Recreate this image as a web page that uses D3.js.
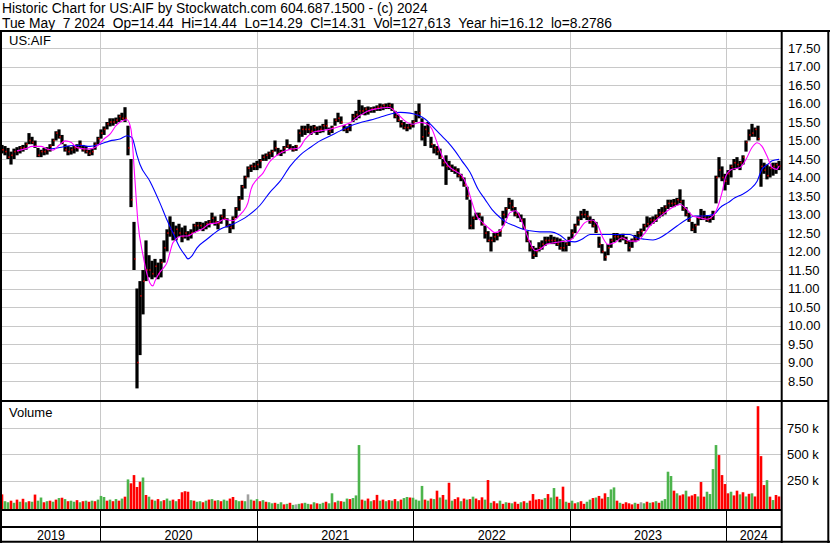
<!DOCTYPE html>
<html>
<head>
<meta charset="utf-8">
<script src="https://cdn.jsdelivr.net/npm/d3@7"></script>
<style>
  body { margin: 0; background: #fff; }
  svg { display: block; font-family: "Liberation Sans", Arial, sans-serif; }
</style>
</head>
<body>
<svg id="chart" width="830" height="543"></svg>
<script>
// weekly bars, first week ending 2019-05-17
var startDate = new Date(2019, 4, 17);

var weekHi = [
  14.88,14.85,14.8,14.7,14.78,14.82,14.85,14.88,14.95,15.2,
  15.1,15.0,14.8,14.75,14.8,14.82,14.9,15.05,15.25,15.3,
  15.15,14.9,14.85,14.82,14.85,14.9,15.0,14.88,14.85,14.75,
  14.78,14.95,15.1,15.3,15.38,15.5,15.6,15.6,15.62,15.7,
  15.75,15.9,15.4,14.5,12.8,11.0,11.2,11.5,12.3,11.9,
  11.75,11.8,11.7,11.8,12.3,12.6,12.95,12.8,12.7,12.75,
  12.65,12.7,12.55,12.6,12.75,12.8,12.8,12.78,12.82,12.85,
  13.05,12.95,12.82,13.0,13.15,12.9,12.75,12.95,13.2,13.5,
  13.8,14.05,14.3,14.35,14.4,14.45,14.5,14.62,14.65,14.7,
  14.75,15.0,14.8,14.75,14.85,15.03,14.9,14.85,14.88,15.3,
  15.4,15.4,15.45,15.4,15.42,15.38,15.4,15.45,15.57,15.35,
  15.4,15.6,15.75,15.65,15.42,15.38,15.45,15.72,15.8,16.1,
  15.95,15.9,15.92,15.9,15.92,15.95,16.0,15.98,16.0,16.02,
  16.0,15.8,15.7,15.55,15.5,15.45,15.45,15.55,15.8,16.0,
  15.6,15.4,15.5,15.1,14.9,14.85,14.78,14.5,14.6,14.45,
  14.35,14.3,14.25,14.1,14.0,13.75,13.4,12.95,13.05,13.05,
  12.95,12.7,12.55,12.4,12.5,12.5,12.6,13.1,13.2,13.45,
  13.4,13.2,13.05,13.0,12.9,12.55,12.3,12.15,12.1,12.25,
  12.3,12.4,12.4,12.45,12.4,12.38,12.35,12.3,12.25,12.4,
  12.6,12.75,12.95,13.1,13.15,13.1,12.95,12.88,12.8,12.4,
  12.2,12.0,12.2,12.35,12.5,12.5,12.45,12.48,12.4,12.3,
  12.35,12.45,12.55,12.62,12.75,12.95,12.92,12.95,13.0,13.15,
  13.2,13.25,13.4,13.4,13.42,13.45,13.68,13.4,13.2,13.05,
  12.8,12.75,12.95,13.15,13.1,12.98,12.96,13.1,14.05,14.55,
  14.3,14.1,14.2,14.35,14.5,14.55,14.45,14.6,15.0,15.3,
  15.45,15.35,15.4,14.5,14.4,14.35,14.3,14.4,14.4,14.45
];

var weekLo = [
  14.65,14.6,14.5,14.35,14.5,14.6,14.65,14.7,14.75,14.9,
  14.9,14.8,14.55,14.55,14.6,14.62,14.7,14.85,15.0,15.05,
  14.9,14.7,14.6,14.62,14.65,14.7,14.8,14.7,14.65,14.58,
  14.6,14.75,14.9,15.05,15.15,15.3,15.38,15.4,15.45,15.5,
  15.55,15.5,14.6,13.2,11.5,8.3,9.2,10.3,11.2,11.3,
  11.25,11.3,11.25,11.3,11.7,12.0,12.4,12.3,12.3,12.4,
  12.25,12.35,12.3,12.35,12.5,12.55,12.6,12.55,12.6,12.65,
  12.75,12.7,12.6,12.75,12.85,12.65,12.5,12.6,12.9,13.1,
  13.4,13.7,14.0,14.15,14.2,14.2,14.25,14.45,14.45,14.5,
  14.55,14.7,14.6,14.58,14.65,14.8,14.75,14.7,14.72,14.95,
  15.1,15.15,15.2,15.15,15.2,15.15,15.2,15.22,15.3,15.15,
  15.2,15.4,15.5,15.45,15.25,15.2,15.25,15.5,15.55,15.6,
  15.7,15.68,15.7,15.75,15.75,15.8,15.8,15.82,15.85,15.85,
  15.8,15.6,15.5,15.35,15.3,15.25,15.3,15.35,15.5,15.6,
  15.0,14.85,15.1,14.8,14.65,14.6,14.5,14.3,13.8,14.2,
  14.15,14.1,14.0,13.9,13.75,13.4,12.6,12.6,12.85,12.9,
  12.7,12.35,12.25,12.0,12.25,12.3,12.4,12.7,12.9,13.15,
  13.1,12.95,12.9,12.8,12.6,12.25,12.0,11.8,11.85,12.0,
  12.05,12.15,12.2,12.2,12.2,12.15,12.05,12.0,12.0,12.15,
  12.35,12.5,12.7,12.85,12.9,12.85,12.75,12.65,12.5,12.1,
  11.95,11.75,11.9,12.1,12.25,12.3,12.25,12.3,12.2,12.0,
  12.1,12.25,12.3,12.4,12.55,12.65,12.7,12.75,12.8,12.9,
  12.95,13.0,13.15,13.2,13.2,13.25,13.3,13.1,12.95,12.8,
  12.55,12.5,12.7,12.85,12.85,12.8,12.78,12.85,13.3,14.0,
  13.9,13.65,13.8,14.0,14.2,14.25,14.2,14.35,14.7,15.0,
  15.1,15.1,15.0,13.75,14.1,13.95,14.0,14.05,14.1,14.2
];

var weekClose = [
  14.75,14.7,14.55,14.6,14.7,14.72,14.8,14.8,14.9,15.0,
  14.95,14.85,14.6,14.7,14.7,14.75,14.85,15.0,15.2,15.1,
  14.95,14.75,14.7,14.75,14.8,14.8,14.9,14.75,14.7,14.65,
  14.7,14.9,15.05,15.2,15.3,15.45,15.5,15.5,15.55,15.65,
  15.6,15.6,14.8,13.4,11.8,9.0,10.8,11.2,11.5,11.5,
  11.4,11.6,11.4,11.7,12.1,12.5,12.6,12.5,12.6,12.5,
  12.4,12.5,12.45,12.5,12.7,12.7,12.7,12.65,12.75,12.8,
  12.9,12.8,12.75,12.95,12.9,12.7,12.65,12.9,13.15,13.4,
  13.75,14.0,14.25,14.3,14.3,14.35,14.45,14.55,14.6,14.65,
  14.7,14.8,14.65,14.7,14.8,14.85,14.78,14.75,14.85,15.2,
  15.3,15.3,15.3,15.25,15.35,15.25,15.3,15.4,15.4,15.25,
  15.35,15.55,15.6,15.5,15.3,15.3,15.4,15.65,15.7,15.8,
  15.8,15.85,15.8,15.85,15.85,15.9,15.9,15.95,15.9,15.95,
  15.85,15.65,15.55,15.45,15.35,15.35,15.4,15.5,15.7,15.75,
  15.1,15.3,15.2,14.9,14.8,14.7,14.55,14.4,14.3,14.3,
  14.2,14.2,14.05,14.0,13.8,13.5,12.7,12.9,12.95,13.0,
  12.75,12.5,12.3,12.3,12.4,12.45,12.55,13.0,13.15,13.3,
  13.2,13.0,13.0,12.85,12.65,12.3,12.1,11.9,12.0,12.1,
  12.2,12.3,12.3,12.3,12.3,12.2,12.1,12.1,12.2,12.3,
  12.5,12.7,12.85,13.0,13.0,12.95,12.8,12.7,12.55,12.2,
  12.0,11.85,12.1,12.3,12.4,12.4,12.35,12.35,12.25,12.1,
  12.3,12.35,12.5,12.55,12.7,12.75,12.85,12.85,12.95,13.05,
  13.05,13.2,13.3,13.3,13.3,13.4,13.35,13.15,13.0,12.85,
  12.6,12.7,12.9,12.95,12.9,12.85,12.9,13.0,14.0,14.2,
  14.0,13.9,14.1,14.3,14.4,14.35,14.4,14.55,14.95,15.15,
  15.2,15.3,15.05,14.3,14.2,14.05,14.25,14.3,14.35,14.31
];

// volume in thousands, and colour code per week (r = down, g = up, x = unchanged)
var weekVol = [
  120,55,45,60,40,70,50,78,45,55,
  50,118,60,90,45,55,60,50,70,85,
  88,75,55,60,50,65,45,55,60,50,
  60,55,70,105,95,60,70,55,75,60,
  80,98,262,225,303,190,240,280,114,98,
  70,60,75,55,65,80,60,70,55,75,
  140,150,145,65,60,50,55,45,60,70,
  75,60,65,55,70,60,80,95,65,55,
  60,55,120,70,60,75,55,65,50,45,
  35,40,30,45,25,30,40,20,25,30,
  35,40,30,25,45,35,30,40,50,35,
  130,45,60,55,50,80,75,85,110,588,
  70,60,80,55,65,115,60,70,55,65,
  60,75,55,70,85,95,90,88,70,60,
  200,70,60,80,75,155,90,114,70,230,
  60,75,92,55,80,70,75,98,80,65,
  92,70,256,40,55,35,60,30,45,40,
  35,50,30,45,55,40,60,123,70,75,
  70,85,123,90,180,98,75,193,50,40,
  60,35,45,55,30,50,70,85,90,105,
  80,130,95,167,186,60,40,30,45,35,
  25,40,30,45,35,50,40,45,55,40,
  60,75,335,294,155,130,110,120,155,100,
  110,123,100,237,98,145,123,360,588,493,
  303,218,130,145,110,155,120,140,100,125,
  130,100,957,483,208,255,98,66,114,100
];
var weekDir =
  "rggrgrgrgr" + "grggrgrgrg" + "rgrggrgrgr" + "grgggrgrgr" + "grgrrrrgrg" +
  "rgrgrggrgr" + "rrrgrggrgr" + "grgrggrrgg" + "rgxgrgrgrg" + "grggrgrgxg" +
  "rggrgrggrg" + "grgrggrggg" + "rgrgrrgrgr" + "grgrggrggg" + "grgrgrgrgr" +
  "grrgrgrgrr" + "rgrgrrgrgr" + "grrgrgrrrr" + "rgrggrgrgr" + "grgrrggrgr" +
  "rrgggrgrrr" + "rgrxgrgrgr" + "ggggrgrrgr" + "rrgrrggggr" + "rrrgrrgrgr" +
  "grrrrgrgrr";

// moving averages: [week number, price]
var maShort = [
  [5,14.72],[8,14.78],[10,14.84],[13,14.84],[15,14.77],[17,14.74],[19,14.87],[21,14.99],
  [23,14.95],[25,14.81],[28,14.77],[30,14.78],[32,14.87],[34,15.04],[36,15.17],[38,15.4],
  [40,15.53],[41.7,15.56],[43,15.3],[44.3,13.95],[45.3,12.8],[47,11.9],[48.3,11.4],
  [49.3,11.15],[50.3,11.07],[51,11.2],[52.7,11.45],[54,11.57],[55,11.7],[56,11.98],
  [57,12.24],[60,12.42],[62,12.42],[64,12.51],[67,12.62],[69,12.74],[72,12.78],[74,12.87],
  [77,12.83],[79,12.96],[80,13.05],[82,13.32],[83,13.68],[85,13.95],[87,14.12],[89,14.4],
  [93,14.67],[96,14.76],[99,14.8],[101,15.03],[104,15.23],[106,15.26],[109,15.3],
  [113,15.39],[116,15.48],[119,15.66],[122,15.8],[125,15.86],[129,15.89],[132,15.71],
  [134.3,15.53],[137,15.44],[139.3,15.49],[142,15.44],[143.3,15.31],[145,14.95],
  [146.7,14.59],[148.7,14.32],[151,14.18],[153.3,14.05],[155,13.77],[156.7,13.32],
  [158.3,12.96],[160.3,12.78],[162.7,12.6],[164.3,12.51],[166,12.56],[167.7,12.78],
  [169.3,13.05],[171.3,13.1],[172.7,12.92],[174.3,12.6],[176,12.24],[177.7,12.02],
  [179.3,12.06],[181.7,12.2],[184.3,12.24],[186.7,12.27],[189.3,12.3],[191.7,12.5],
  [194.3,12.78],[196.7,12.85],[198.7,12.69],[200.3,12.37],[202,12.19],[204.3,12.24],
  [206.7,12.37],[209.3,12.28],[211.7,12.28],[213.7,12.44],[216,12.69],[218.3,12.87],
  [221,13.05],[223.3,13.18],[226,13.27],[228.3,13.14],[230.3,12.96],[232.7,12.91],
  [235,12.87],[237,12.96],[238.7,13.23],[240,13.59],[241.3,14.04],[243.3,14.22],
  [246,14.27],[248,14.49],[250,14.81],[251.7,14.94],[253.3,14.85],[255,14.58],
  [256.7,14.27],[258.3,14.22],[259,14.31]
];
var maLong = [
  [16,14.77],[19.3,14.81],[22.7,14.86],[26,14.87],[29.3,14.84],[32.7,14.9],[36,14.99],
  [39.3,15.04],[41.7,15.13],[43.3,15.08],[45,14.6],[46,14.35],[49.3,13.9],[52.7,13.3],
  [55,12.85],[57,12.5],[59.3,12.1],[61,11.9],[62,11.8],[63.3,11.88],[65,12.1],
  [68.3,12.33],[72.7,12.6],[77,12.74],[81.7,12.95],[86,13.25],[89.3,13.6],[92.7,13.9],
  [96,14.3],[99.3,14.6],[102.7,14.81],[106,14.99],[109.3,15.12],[112.7,15.26],[116,15.39],
  [119.3,15.48],[122.7,15.55],[126,15.63],[129.3,15.71],[132.7,15.76],[136,15.74],
  [138.7,15.68],[141,15.58],[143.3,15.4],[146,15.17],[148.7,14.95],[151,14.72],
  [153.3,14.45],[156,14.14],[158.7,13.68],[161,13.41],[163.3,13.14],[166,12.92],
  [168.3,12.78],[171,12.69],[173.7,12.6],[176,12.56],[179.3,12.53],[182.7,12.53],
  [186,12.44],[188.7,12.28],[191,12.26],[193.3,12.33],[196,12.46],[199.3,12.46],
  [202.7,12.46],[206,12.46],[209.3,12.46],[211.7,12.37],[214.3,12.33],[217,12.31],
  [219.3,12.37],[222,12.51],[225,12.69],[228.3,12.87],[231,12.96],[233.7,12.96],
  [236,12.98],[237.7,13.03],[239.3,13.18],[242,13.32],[244.3,13.45],[246.7,13.54],
  [249.3,13.68],[251.7,13.9],[253.3,14.22],[255.3,14.36],[256.7,14.45],[259,14.49]
];

var priceTicks = d3.range(8.5, 17.51, 0.5);
var volTicks = [250, 500, 750];
var years = [2019, 2020, 2021, 2022, 2023, 2024];

var headerLine1 = "Historic Chart for US:AIF by Stockwatch.com 604.687.1500 - (c) 2024";
var headerLine2 = "Tue May  7 2024  Op=14.44  Hi=14.44  Lo=14.29  Cl=14.31  Vol=127,613  Year hi=16.12  lo=8.2786";

var svg = d3.select("#chart");

var plotLeft = 2, plotRight = 781;
var priceTop = 32, priceBottom = 400;
var volTop = 402, volBottom = 509;

function weekDate(w) { return d3.timeHour.offset(startDate, Math.round(w * 7 * 24)); }

var x = d3.scaleTime()
    .domain([startDate, weekDate(259)])
    .range([2, 779]);

var y = d3.scaleLinear()
    .domain([8.5, 17.5])
    .range([381, 48]);

var yv = d3.scaleLinear()
    .domain([0, 750])
    .range([507, 428]);

var bars = weekHi.map(function(h, i) {
  return {date: weekDate(i), hi: h, lo: weekLo[i], close: weekClose[i], vol: weekVol[i], dir: weekDir[i]};
});

var yearStart = years.map(function(yr) { return new Date(yr, 0, 1); });

svg.append("rect").attr("width", 830).attr("height", 543).attr("fill", "#fff");

// ---- grid ----
var grid = svg.append("g").attr("stroke", "#c8c8c8").attr("stroke-width", 1);

grid.selectAll(".hp").data(priceTicks).enter().append("line")
    .attr("x1", plotLeft).attr("x2", plotRight)
    .attr("y1", d => Math.round(y(d)) + 0.5).attr("y2", d => Math.round(y(d)) + 0.5);

grid.selectAll(".hv").data(volTicks).enter().append("line")
    .attr("x1", plotLeft).attr("x2", plotRight)
    .attr("y1", d => Math.round(yv(d)) + 0.5).attr("y2", d => Math.round(yv(d)) + 0.5);

grid.selectAll(".vp").data(yearStart.slice(1)).enter().append("line")
    .attr("x1", d => Math.round(x(d)) + 0.5).attr("x2", d => Math.round(x(d)) + 0.5)
    .attr("y1", priceTop).attr("y2", volBottom);

// ---- price bars ----
svg.append("g").selectAll("rect").data(bars).enter().append("rect")
    .attr("x", d => x(d.date) - 1.6)
    .attr("width", 3.2)
    .attr("y", d => y(d.hi))
    .attr("height", d => Math.max(1, y(d.lo) - y(d.hi)))
    .attr("fill", "#000");

// close marks
svg.append("g").selectAll("rect").data(bars).enter().append("rect")
    .attr("x", d => x(d.date) + 0.4)
    .attr("width", 1.2)
    .attr("y", d => y(d.close) - 0.8)
    .attr("height", 1.6)
    .attr("fill", "#ff0000");

// ---- moving averages ----
var maLine = d3.line()
    .curve(d3.curveMonotoneX)
    .x(d => x(weekDate(d[0])))
    .y(d => y(d[1]));

svg.append("path").datum(maLong)
    .attr("fill", "none").attr("stroke", "#0000ff").attr("stroke-width", 1.1)
    .attr("d", maLine);

svg.append("path").datum(maShort)
    .attr("fill", "none").attr("stroke", "#ff00ff").attr("stroke-width", 1.1)
    .attr("d", maLine);

// ---- volume ----
var volColor = {r: "#ff0000", g: "#4cb44c", x: "#a0a0a0"};
svg.append("g").selectAll("rect").data(bars).enter().append("rect")
    .attr("x", d => x(d.date) - 1.3)
    .attr("width", 2.6)
    .attr("y", d => yv(d.vol))
    .attr("height", d => volBottom - yv(d.vol))
    .attr("fill", d => volColor[d.dir]);

// ---- frame ----
var frame = svg.append("g").attr("stroke", "#000").attr("stroke-width", 2);
[[0, 31, 830, 31], [0, 401, 829, 401], [0, 510, 782, 510], [0, 527, 782, 527], [0, 541.7, 830, 541.7]]
  .forEach(function(s) {
    frame.append("line").attr("x1", s[0]).attr("y1", s[1]).attr("x2", s[2]).attr("y2", s[3]);
  });
[[1, 30, 1, 543], [781.7, 30, 781.7, 543], [828.3, 30, 828.3, 543]]
  .forEach(function(s) {
    frame.append("line").attr("x1", s[0]).attr("y1", s[1]).attr("x2", s[2]).attr("y2", s[3]);
  });

svg.append("g").attr("stroke", "#000").attr("stroke-width", 1)
  .selectAll("line").data(yearStart.slice(1)).enter().append("line")
    .attr("x1", d => Math.round(x(d)) + 0.5).attr("x2", d => Math.round(x(d)) + 0.5)
    .attr("y1", 510).attr("y2", 541);

// ---- text ----
var nb = s => s.replace(/ /g, "\u00a0");
svg.append("text").attr("x", 2).attr("y", 12.5)
    .attr("font-size", 13.8)
    .text(nb(headerLine1));
svg.append("text").attr("x", 2).attr("y", 27.5)
    .attr("font-size", 13.8)
    .text(nb(headerLine2));

svg.append("text").attr("x", 9).attr("y", 45).attr("font-size", 13).text("US:AIF");
svg.append("text").attr("x", 9).attr("y", 417).attr("font-size", 13).text("Volume");

svg.append("g").selectAll("text").data(priceTicks).enter().append("text")
    .attr("x", 788)
    .attr("y", d => y(d) + 4.7)
    .attr("font-size", 13)
    .text(d => d3.format(".2f")(d));

svg.append("g").selectAll("text").data(volTicks).enter().append("text")
    .attr("x", 787)
    .attr("y", d => yv(d) + 4.7)
    .attr("font-size", 13)
    .text(d => d + " k");

svg.append("g").selectAll("text").data(years).enter().append("text")
    .attr("x", function(d, i) {
      var a = Math.max(plotLeft, x(yearStart[i]));
      var b = i + 1 < years.length ? x(yearStart[i + 1]) : plotRight;
      return (a + b) / 2;
    })
    .attr("y", 540)
    .attr("text-anchor", "middle")
    .attr("font-size", 14.5)
    .attr("textLength", 28)
    .attr("lengthAdjust", "spacingAndGlyphs")
    .text(d => d);
</script>
</body>
</html>
